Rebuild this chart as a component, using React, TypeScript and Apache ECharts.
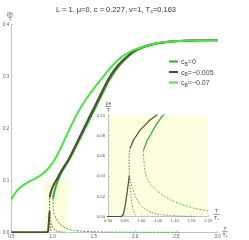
import { useEffect, useRef } from "react";
import * as echarts from "echarts";

// ---- data ----
const legendNames = ["c_B=0", "c_B=-0.005", "c_B=-0.07"];
const mainXTicks = [0.5, 3.0, 0.5]; // min, max, step
const mainYTicks = [0, 0.4, 0.1];
const insetXTicks = [0.9, 1.2, 0.05];
const insetYTicks = [0, 0.1, 0.02];

// c_B = -0.07
const g07T = [0.5, 0.55, 0.6, 0.65, 0.7, 0.75, 0.8, 0.85, 0.9, 0.95, 1.0, 1.05, 1.1, 1.2, 1.3, 1.4, 1.5, 1.6, 1.7, 1.8, 1.9, 2.0, 2.2, 2.4, 2.6, 2.8, 3.0];
const g07R = [0.063, 0.076, 0.085, 0.091, 0.096, 0.1, 0.104, 0.109, 0.115, 0.123, 0.133, 0.146, 0.162, 0.196, 0.228, 0.254, 0.276, 0.296, 0.316, 0.332, 0.343, 0.351, 0.361, 0.366, 0.368, 0.369, 0.369];

// c_B = 0, upper stable branch
const g0UpT = [1.006, 1.012, 1.018, 1.03, 1.042, 1.054, 1.066, 1.12, 1.2, 1.28, 1.36, 1.44, 1.52, 1.6, 1.68, 1.76, 1.86, 2.0, 2.2, 2.4, 2.6, 3.0];
const g0UpR = [0.065, 0.07, 0.075, 0.082, 0.089, 0.095, 0.1, 0.118, 0.139, 0.163, 0.188, 0.214, 0.239, 0.265, 0.29, 0.31, 0.329, 0.348, 0.36, 0.366, 0.368, 0.369];
// c_B = 0, unstable branch (dashed)
const g0DnT = [1.006, 1.007, 1.009, 1.013, 1.02, 1.03, 1.045, 1.065, 1.09, 1.12, 1.16, 1.2, 1.26, 1.35, 1.5, 1.7, 2.0, 2.55];
const g0DnR = [0.065, 0.058, 0.05, 0.042, 0.036, 0.031, 0.026, 0.021, 0.016, 0.012, 0.008, 0.0055, 0.0035, 0.002, 0.001, 0.0004, 0.0001, 0];

// c_B = -0.005
const d005LowT = [0.5, 0.94, 0.946, 0.95, 0.954, 0.958, 0.961, 0.964];
const d005LowR = [0, 0, 0.002, 0.008, 0.016, 0.025, 0.033, 0.04];
const d005MidT = [0.964, 0.9635, 0.9635, 0.964, 0.966];
const d005MidR = [0.04, 0.048, 0.056, 0.062, 0.067];
const d005UpT = [0.966, 0.971, 0.976, 0.986, 0.996, 1.011, 1.026, 1.046, 1.1, 1.19, 1.27, 1.35, 1.43, 1.51, 1.59, 1.67, 1.75, 1.85, 2.0, 2.2, 2.4, 2.6, 3.0];
const d005UpR = [0.067, 0.071, 0.075, 0.08, 0.085, 0.09, 0.095, 0.1, 0.116, 0.139, 0.164, 0.19, 0.216, 0.241, 0.267, 0.292, 0.312, 0.33, 0.349, 0.361, 0.366, 0.368, 0.369];
const d005SteepT = [0.964, 0.966, 0.969, 0.972, 0.976, 0.981, 0.988];
const d005SteepR = [0.04, 0.03, 0.02, 0.012, 0.006, 0.002, 0];
const d005ShallowT = [0.964, 0.968, 0.974, 0.982, 0.994, 1.01, 1.03, 1.06, 1.1, 1.16];
const d005ShallowR = [0.04, 0.034, 0.027, 0.02, 0.013, 0.0075, 0.004, 0.0018, 0.0006, 0];

// ---- styles ----
const C0 = "#34a834";
const C005 = "#4d4d33";
const C07 = "#47e63c";
const FONT = "Liberation Sans";
const AX = "#b4b4b4";
const LBL = "#555";

const pairs = (T: number[], R: number[]) => T.map((t, i) => [t, R[i]]);

function fracText(x: number, y: number, top: string, bottom: string, w: number) {
  return [
    { type: "text", x, y: y - 3.2, style: { text: top, align: "center", verticalAlign: "middle", fill: "#444", font: `5px ${FONT}`, rich: { a: { fontSize: 5, fill: "#444", fontFamily: FONT }, s: { fontSize: 3.5, fill: "#444", fontFamily: FONT, padding: [2, 0, 0, 0] } } } },
    { type: "line", shape: { x1: x - w / 2, y1: y, x2: x + w / 2, y2: y }, style: { stroke: "#444", lineWidth: 0.5 } },
    { type: "text", x, y: y + 3.2, style: { text: bottom, align: "center", verticalAlign: "middle", fill: "#444", font: `5px ${FONT}`, rich: { a: { fontSize: 5, fill: "#444", fontFamily: FONT }, s: { fontSize: 3.5, fill: "#444", fontFamily: FONT, padding: [2, 0, 0, 0] } } } },
  ];
}

export default function App() {
  const ref = useRef<HTMLDivElement>(null);
  useEffect(() => {
    if (!ref.current) return;
    const chart = echarts.init(ref.current, undefined, { renderer: "svg" });
    const series: any[] = [];
    const add = (name: string, T: number[], R: number[], color: string, width: number, dash: any, grid: number, z: number, smooth: any = 0.2) => {
      series.push({
        type: "line", name, xAxisIndex: grid, yAxisIndex: grid, data: pairs(T, R),
        symbol: "none", showSymbol: false, smooth, clip: true, silent: true,
        lineStyle: { color, width, type: dash || "solid" }, itemStyle: { color }, z,
      });
    };
    // highlighted region in main chart
    series.push({
      type: "line", name: "_region", xAxisIndex: 0, yAxisIndex: 0, data: [[insetXTicks[0], insetYTicks[0]]],
      symbol: "none", lineStyle: { width: 0, opacity: 0 }, silent: true, z: 1,
      markArea: { silent: true, itemStyle: { color: "#fdfde0" }, data: [[{ coord: [insetXTicks[0], insetYTicks[0]] }, { coord: [insetXTicks[1], insetYTicks[1]] }]] },
    });
    for (const g of [0, 1]) {
      const w = g === 0 ? 2 : 1.2;
      const dw = g === 0 ? 1 : 0.8;
      add(g === 0 ? "c_B=0" : "c_B=0 i", g0UpT, g0UpR, C0, w, null, g, 3);
      add("c_B=0 d" + g, g0DnT, g0DnR, C0, dw, [2, 1.5], g, 3);
      add(g === 0 ? "c_B=-0.005" : "c_B=-0.005 i", d005UpT, d005UpR, C005, w, null, g, 4);
      add("c_B=-0.005 low" + g, d005LowT, d005LowR, C005, w, null, g, 4, false);
      add("c_B=-0.005 mid" + g, d005MidT, d005MidR, C005, dw, [1.5, 1.5], g, 4, false);
      add("c_B=-0.005 st" + g, d005SteepT, d005SteepR, C005, dw * 0.8, [1.5, 1.5], g, 4);
      add("c_B=-0.005 sh" + g, d005ShallowT, d005ShallowR, C005, dw * 0.8, [1.5, 1.5], g, 4);
      add(g === 0 ? "c_B=-0.07" : "c_B=-0.07 i", g07T, g07R, C07, w, null, g, 5);
    }
    const axisCommon = (fmt: number) => ({
      type: "value",
      axisLine: { show: true, onZero: false, lineStyle: { color: AX, width: 0.8 } },
      axisTick: { show: true, inside: true, length: 2, lineStyle: { color: AX, width: 0.6 } },
      minorTick: { show: false },
      splitLine: { show: false },
      axisLabel: { fontSize: 4.5, color: LBL, fontFamily: FONT, margin: 2, showMinLabel: true, showMaxLabel: true, formatter: (v: number) => v.toFixed(fmt) },
    });
    const legendLabel: Record<string, string> = {
      "c_B=0": "{n|c}{s|B}{n|=0}",
      "c_B=-0.005": "{n|c}{s|B}{n|=\u22120.005}",
      "c_B=-0.07": "{n|c}{s|B}{n|=\u22120.07}",
    };
    const legendColors = [C0, C005, C07];
    chart.setOption({
      animation: false,
      textStyle: { fontFamily: FONT },
      title: {
        text: "L = 1, \u03bc=0, c = 0.227, v=1, T{s|c}=0.163",
        left: 51, top: 0,
        textStyle: { fontSize: 7.5, fontWeight: "normal", color: "#333", fontFamily: FONT, rich: { s: { fontSize: 5, color: "#333", fontFamily: FONT, padding: [3, 0, 0, 0] } } },
      },
      legend: {
        data: legendNames.map((n, i) => ({ name: n, icon: "rect", itemStyle: { color: legendColors[i] } })),
        orient: "vertical", left: 164, top: 53, itemWidth: 9, itemHeight: 2, itemGap: 2.5, selectedMode: false,
        formatter: (n: string) => legendLabel[n] || n,
        textStyle: {
          color: "#444", fontSize: 7, padding: [0, 0, 0, -2],
          rich: { n: { fontSize: 7, color: "#444", fontFamily: FONT, lineHeight: 9 }, s: { fontSize: 5, color: "#444", fontFamily: FONT, lineHeight: 5, verticalAlign: "bottom" } },
        },
      },
      grid: [
        { left: 9, top: 24, width: 208.5, height: 208.3, containLabel: false },
        { left: 108, top: 115, width: 100, height: 101.5, show: true, backgroundColor: "#fdfde0", borderWidth: 0, containLabel: false },
      ],
      xAxis: [
        { ...axisCommon(1), gridIndex: 0, min: mainXTicks[0], max: mainXTicks[1], interval: mainXTicks[2] },
        { ...axisCommon(2), gridIndex: 1, min: insetXTicks[0], max: insetXTicks[1], interval: insetXTicks[2], axisLabel: { ...axisCommon(2).axisLabel, fontSize: 4.2 } },
      ],
      yAxis: [
        { ...axisCommon(1), gridIndex: 0, min: mainYTicks[0], max: mainYTicks[1], interval: mainYTicks[2] },
        { ...axisCommon(2), gridIndex: 1, min: insetYTicks[0], max: insetYTicks[1], interval: insetYTicks[2], axisLabel: { ...axisCommon(2).axisLabel, fontSize: 4.2, margin: 3 } },
      ],
      series,
      graphic: [
        ...fracText(10, 16, "{a|\u03c1}{s|H}", "{a|T}", 6),
        ...fracText(225, 231.7, "{a|T}", "{a|T}{s|c}", 6),
        ...fracText(216.5, 214.5, "{a|T}", "{a|T}{s|c}", 6),
        ...fracText(108.5, 106.5, "{a|\u03c1}{s|H}", "{a|T}", 6),
      ],
    });
    return () => chart.dispose();
  }, []);
  return <div ref={ref} style={{ position: "fixed", left: 0, top: 0, width: 249, height: 240 }} />;
}
